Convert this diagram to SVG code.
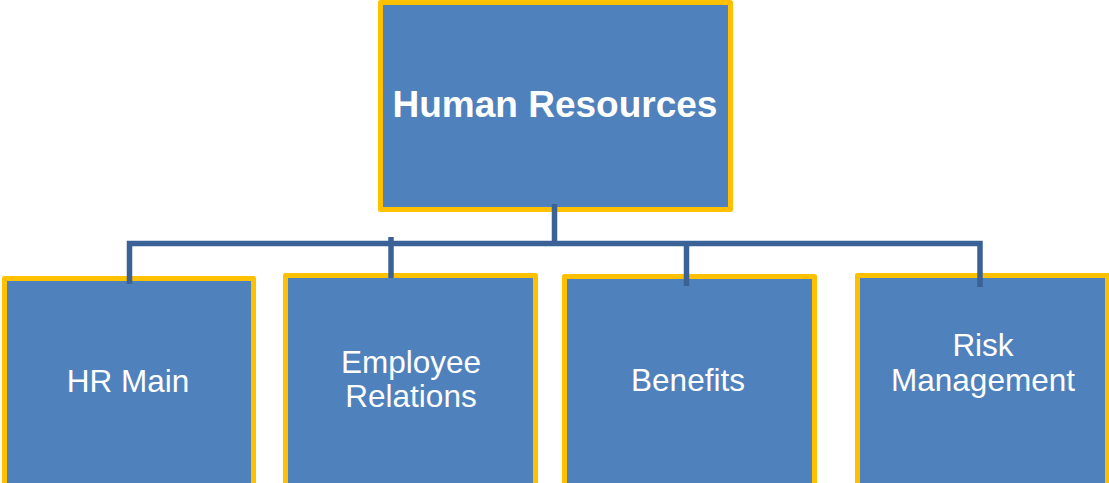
<svg xmlns="http://www.w3.org/2000/svg" width="1109" height="483" viewBox="0 0 1109 483">
<style>
.box{fill:#4F81BD;stroke:#FFC000;stroke-width:5;stroke-linejoin:round}
.lbl{fill:#FFFFFF;font-family:"Liberation Sans",Arial,sans-serif;font-size:31.5px;text-anchor:middle}
.title{font-weight:bold;font-size:37px}
.conn{fill:none;stroke:#3A6297;stroke-width:5.5}
</style>
<rect width="1109" height="483" fill="#FFFFFF"/>
<g id="human-resources">
<rect class="box" x="380.5" y="2.5" width="350" height="207"/>
<text class="lbl title" x="555" y="117">Human Resources</text>
</g>
<g id="hr-main">
<rect class="box" x="4.5" y="278.5" width="249" height="215"/>
<text class="lbl" x="128" y="392">HR Main</text>
</g>
<g id="employee-relations">
<rect class="box" x="285.5" y="275.5" width="250" height="215"/>
<text class="lbl" x="411" y="373">Employee</text>
<text class="lbl" x="411" y="407">Relations</text>
</g>
<g id="benefits">
<rect class="box" x="564.5" y="276.5" width="250" height="215"/>
<text class="lbl" x="688" y="391">Benefits</text>
</g>
<g id="risk-management">
<rect class="box" x="857.5" y="275.5" width="250" height="215"/>
<text class="lbl" x="983" y="356">Risk</text>
<text class="lbl" x="983" y="391">Management</text>
</g>
<g id="connectors">
<path class="conn" d="M554.5 204V246"/>
<path class="conn" d="M129.5 284V243.5H980V287"/>
<path class="conn" d="M391 237V278"/>
<path class="conn" d="M686.5 243.5V286"/>
</g>
</svg>
